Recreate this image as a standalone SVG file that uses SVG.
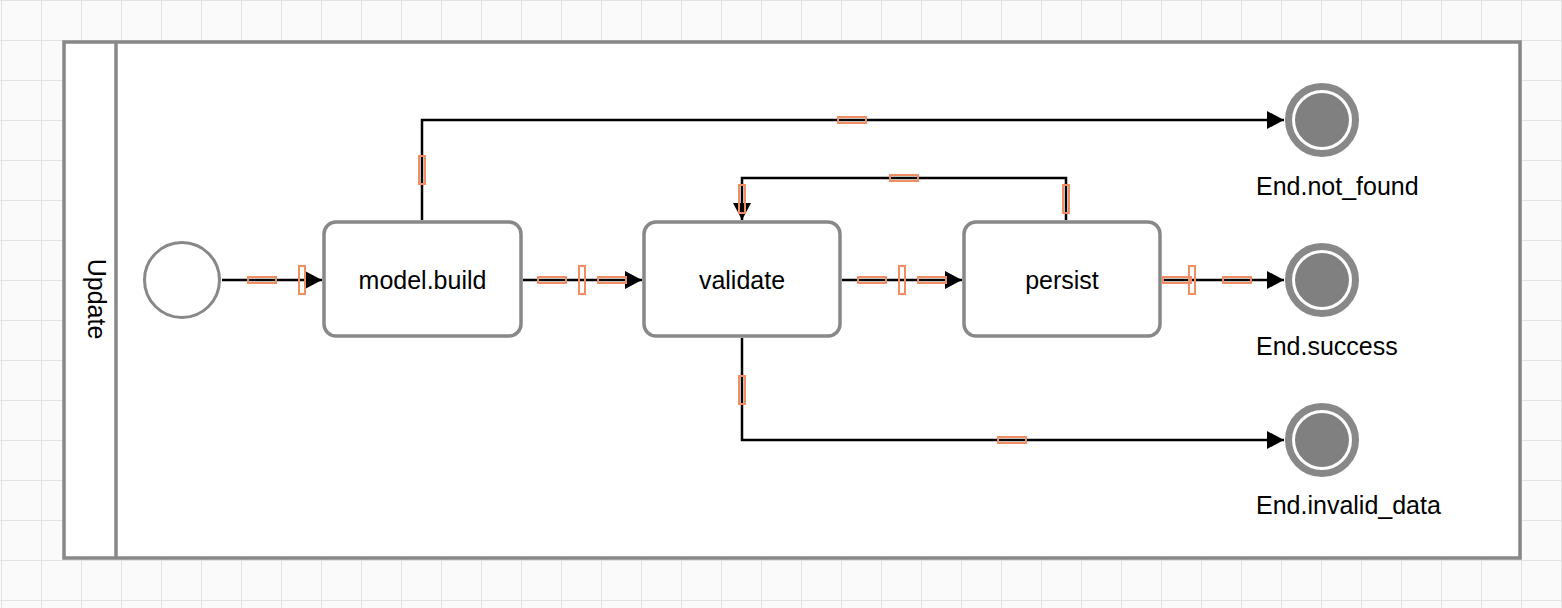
<svg xmlns="http://www.w3.org/2000/svg" width="1562" height="608" viewBox="0 0 1562 608">
<style>
.pool{fill:#ffffff;stroke:#888888;stroke-width:3.5}
.task{fill:#ffffff;stroke:#888888;stroke-width:3.5}
.start{fill:#ffffff;stroke:#888888;stroke-width:3}
.endring{fill:#ffffff;stroke:#888888;stroke-width:7}
.endcore{fill:#808080;stroke:none}
.lbl{font-family:"Liberation Sans",Arial,Helvetica,sans-serif;font-size:25px;fill:#000000}
.mid{text-anchor:middle}
.flow{fill:none;stroke:#000000;stroke-width:2.5;marker-end:url(#arrow)}
.hdl{fill:none;stroke:#ef8d63;stroke-width:2}
</style>
<defs>
<pattern id="grid" x="1" y="0" width="40" height="40" patternUnits="userSpaceOnUse">
<path d="M0 0.5H40M0.5 0V40" fill="none" stroke="#e3e3e3" stroke-width="1"/>
</pattern>
<marker id="arrow" markerUnits="userSpaceOnUse" markerWidth="18" markerHeight="18" refX="17" refY="9" orient="auto">
<path d="M0 0L17 9L0 18Z" fill="#000000"/>
</marker>
</defs>
<rect x="0" y="0" width="1562" height="608" fill="#fafafa"/>
<rect x="0" y="0" width="1562" height="608" fill="url(#grid)"/>
<g id="pool">
<rect class="pool" x="64" y="42" width="1456" height="516"/>
<line x1="116" y1="42" x2="116" y2="558" stroke="#888888" stroke-width="3.5"/>
<text class="lbl mid" transform="translate(88 299) rotate(90)">Update</text>
</g>
<g id="connectors">
<path class="flow" d="M222 280H322"/>
<path class="flow" d="M523 280H642"/>
<path class="flow" d="M842 280H962"/>
<path class="flow" d="M1162 280H1284"/>
<path class="flow" d="M422 220V120H1284"/>
<path class="flow" d="M1066 220V178H742V220"/>
<path class="flow" d="M742 338V440H1284"/>
<rect class="hdl" x="248" y="277" width="28" height="6"/>
<rect class="hdl" x="299" y="266" width="6" height="28"/>
<rect class="hdl" x="538" y="277" width="28" height="6"/>
<rect class="hdl" x="579" y="266" width="6" height="28"/>
<rect class="hdl" x="598" y="277" width="28" height="6"/>
<rect class="hdl" x="858" y="277" width="28" height="6"/>
<rect class="hdl" x="899" y="266" width="6" height="28"/>
<rect class="hdl" x="918" y="277" width="28" height="6"/>
<rect class="hdl" x="1163" y="277" width="28" height="6"/>
<rect class="hdl" x="1189" y="266" width="6" height="28"/>
<rect class="hdl" x="1223" y="277" width="28" height="6"/>
<rect class="hdl" x="419" y="156" width="6" height="28"/>
<rect class="hdl" x="838" y="117" width="28" height="6"/>
<rect class="hdl" x="739" y="185" width="6" height="28"/>
<rect class="hdl" x="890" y="175" width="28" height="6"/>
<rect class="hdl" x="1063" y="185" width="6" height="28"/>
<rect class="hdl" x="739" y="376" width="6" height="28"/>
<rect class="hdl" x="998" y="437" width="28" height="6"/>
</g>
<g id="start">
<circle class="start" cx="182" cy="280" r="37.5"/>
</g>
<g id="model_build">
<rect class="task" x="324" y="222" width="197" height="114" rx="12" ry="12"/>
<text class="lbl mid" x="422.5" y="289">model.build</text>
</g>
<g id="validate">
<rect class="task" x="644" y="222" width="196" height="114" rx="12" ry="12"/>
<text class="lbl mid" x="742" y="289">validate</text>
</g>
<g id="persist">
<rect class="task" x="964" y="222" width="196" height="114" rx="12" ry="12"/>
<text class="lbl mid" x="1062" y="289">persist</text>
</g>
<g id="end_not_found">
<circle class="endring" cx="1322" cy="120" r="33.5"/>
<circle class="endcore" cx="1322" cy="120" r="27"/>
<text class="lbl" x="1256" y="195">End.not_found</text>
</g>
<g id="end_success">
<circle class="endring" cx="1322" cy="280" r="33.5"/>
<circle class="endcore" cx="1322" cy="280" r="27"/>
<text class="lbl" x="1256" y="355">End.success</text>
</g>
<g id="end_invalid_data">
<circle class="endring" cx="1322" cy="440" r="33.5"/>
<circle class="endcore" cx="1322" cy="440" r="27"/>
<text class="lbl" x="1256" y="514">End.invalid_data</text>
</g>
</svg>
